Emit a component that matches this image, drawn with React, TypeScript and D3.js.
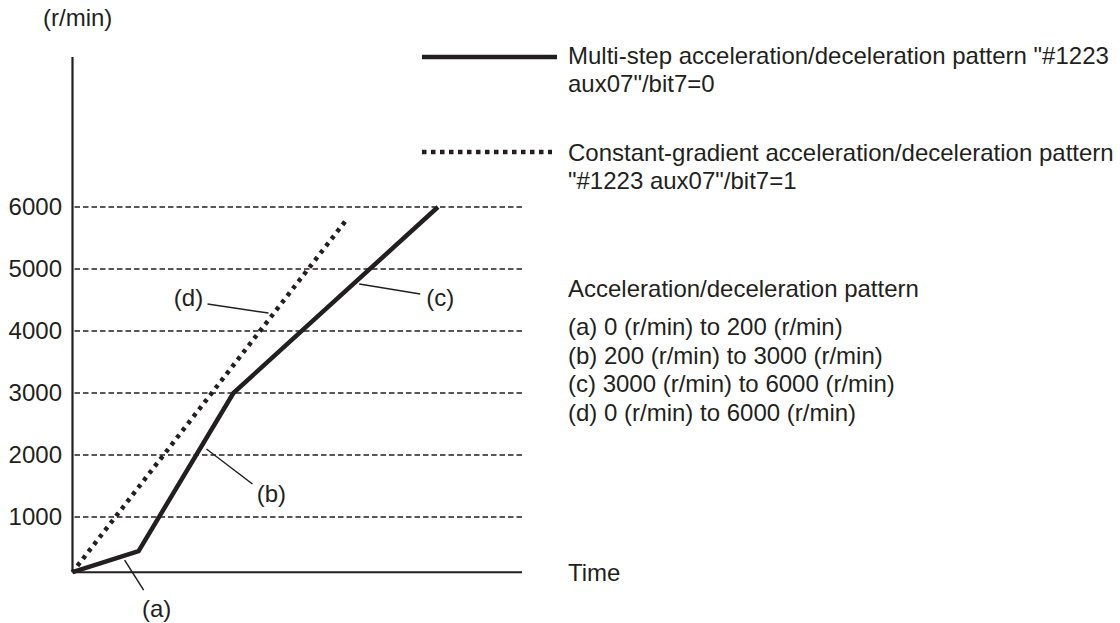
import * as d3 from "d3";

// speed values (r/min) at the corners of each pattern, time in arbitrary units
const axisFloor = 110;
const stepTimes = [0, 14.7, 35.8, 81.3];
const stepSpeeds = [axisFloor, 450, 3000, 6000];
const linearTimes = [0, 60.9];
const linearSpeeds = [axisFloor, 5790];
const gridSpeeds = [1000, 2000, 3000, 4000, 5000, 6000];
const timeMax = 100;

const legendLabels = [
  ["Multi-step acceleration/deceleration pattern \"#1223", "aux07\"/bit7=0"],
  ["Constant-gradient acceleration/deceleration pattern", "\"#1223 aux07\"/bit7=1"],
];
const patternTitle = "Acceleration/deceleration pattern";
const patternLines = [
  "(a) 0 (r/min) to 200 (r/min)",
  "(b) 200 (r/min) to 3000 (r/min)",
  "(c) 3000 (r/min) to 6000 (r/min)",
  "(d) 0 (r/min) to 6000 (r/min)",
];

// callouts anchored on the curves
const calloutNames = ["(a)", "(b)", "(c)", "(d)"];
const calloutTimes = [11.6, 29.8, 63.8, 43.6];
const calloutSpeeds = [306, 2097, 4758, 4290];

const width = 1120;
const height = 623;
const font = "'Liberation Sans', Arial, sans-serif";
const ink = "#231f20";

const x = d3.scaleLinear().domain([0, timeMax]).range([72.5, 522]);
const y = d3.scaleLinear().domain([0, 6000]).range([579, 207]);

const line = d3
  .line<[number, number]>()
  .x((d) => x(d[0]))
  .y((d) => y(d[1]));

const stepPts = stepTimes.map((t, i) => [t, stepSpeeds[i]] as [number, number]);
const linearPts = linearTimes.map((t, i) => [t, linearSpeeds[i]] as [number, number]);

// leader end offset and label position relative to the anchor
const calloutLayout = [
  { dx: 19, dy: 30, lx: 32, ly: 49 },
  { dx: 46, dy: 35, lx: 65, ly: 45 },
  { dx: 61, dy: 10, lx: 81, ly: 14 },
  { dx: -61, dy: -9, lx: -80, ly: -15 },
];

export default function App() {
  const y0 = y(axisFloor);
  return (
    <svg
      width={width}
      height={height}
      style={{ position: "absolute", left: 0, top: 0, background: "#fff" }}
      fontFamily={font}
      fontSize={24}
      fill={ink}
    >
      <text x={43} y={26}>(r/min)</text>

      {gridSpeeds.map((s) => (
        <g key={s}>
          <line
            x1={x(0) + 2}
            x2={x(timeMax)}
            y1={y(s)}
            y2={y(s)}
            stroke={ink}
            strokeWidth={1.3}
            strokeDasharray="5.5,3"
          />
          <text x={62} y={y(s)} dy="0.35em" textAnchor="end">
            {s}
          </text>
        </g>
      ))}

      <line x1={x(0)} x2={x(0)} y1={57} y2={y0} stroke={ink} strokeWidth={2.2} />
      <line x1={x(0)} x2={x(timeMax)} y1={y0} y2={y0} stroke={ink} strokeWidth={2} />
      <text x={568} y={y0} dy="0.35em">Time</text>

      <path
        d={line(linearPts) ?? ""}
        fill="none"
        stroke={ink}
        strokeWidth={4.5}
        strokeDasharray="4,5"
        strokeDashoffset={-8}
      />
      <path
        d={line(stepPts) ?? ""}
        fill="none"
        stroke={ink}
        strokeWidth={4.5}
        strokeLinejoin="miter"
      />

      {calloutNames.map((name, i) => {
        const ax = x(calloutTimes[i]);
        const ay = y(calloutSpeeds[i]);
        const l = calloutLayout[i];
        return (
          <g key={name}>
            <line x1={ax} y1={ay} x2={ax + l.dx} y2={ay + l.dy} stroke={ink} strokeWidth={1.5} />
            <text x={ax + l.lx} y={ay + l.ly} dy="0.35em" textAnchor="middle">
              {name}
            </text>
          </g>
        );
      })}

      <line x1={422} x2={557} y1={57} y2={57} stroke={ink} strokeWidth={4.5} />
      <line x1={422} x2={552} y1={152} y2={152} stroke={ink} strokeWidth={4.5} strokeDasharray="4.5,4.5" />
      {legendLabels[0].map((t, i) => (
        <text key={t} x={568} y={64 + i * 28}>{t}</text>
      ))}
      {legendLabels[1].map((t, i) => (
        <text key={t} x={568} y={161 + i * 28}>{t}</text>
      ))}

      <text x={568} y={297}>{patternTitle}</text>
      {patternLines.map((t, i) => (
        <text key={t} x={568} y={335 + i * 28.5}>{t}</text>
      ))}
    </svg>
  );
}
